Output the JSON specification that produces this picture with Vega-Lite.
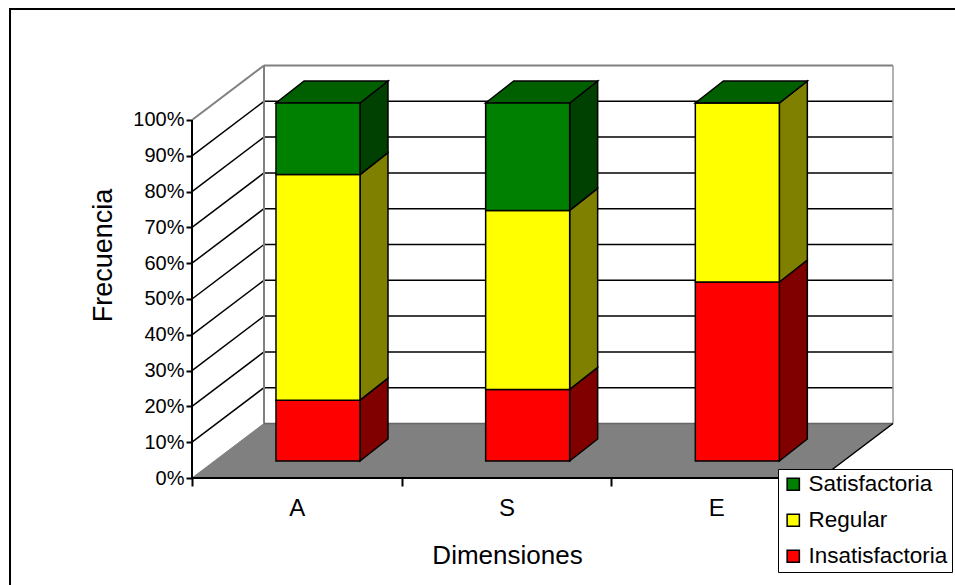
{
"$schema":"https://vega.github.io/schema/vega-lite/v6.json",
"autosize":"none",
"width":701,"height":413,
"padding":{"left":192,"top":65,"right":62,"bottom":107},
"background":"white",
"config":{"font":"Liberation Sans","view":{"stroke":null}},
"data":{"values":[
{"dim":"A","serie":"Insatisfactoria","orden":1,"valor":17},
{"dim":"A","serie":"Regular","orden":2,"valor":63},
{"dim":"A","serie":"Satisfactoria","orden":3,"valor":20},
{"dim":"S","serie":"Insatisfactoria","orden":1,"valor":20},
{"dim":"S","serie":"Regular","orden":2,"valor":50},
{"dim":"S","serie":"Satisfactoria","orden":3,"valor":30},
{"dim":"E","serie":"Insatisfactoria","orden":1,"valor":50},
{"dim":"E","serie":"Regular","orden":2,"valor":50},
{"dim":"E","serie":"Satisfactoria","orden":3,"valor":0}
]},
"transform":[
{"stack":"valor","groupby":["dim"],"sort":[{"field":"orden","order":"ascending"}],"as":["v0","v1"]},
{"calculate":"indexof(['A','S','E'],datum.dim)","as":"pos"},
{"calculate":"datum.pos+0.4006","as":"xa"},
{"calculate":"datum.pos+0.8013","as":"xb"},
{"calculate":"datum.v0+4.75","as":"ya"},
{"calculate":"datum.v1+4.75","as":"yb"}
],
"layer":[
{"data":{"values":[{}]},
 "mark":{"type":"rect","fill":null,"stroke":"black","strokeWidth":2},
 "encoding":{
  "x":{"datum":-0.868,"type":"quantitative","scale":{"domain":[0,3.3434],"nice":false,"zero":false},
    "axis":{"values":[0,1,2,3],"labels":false,"domain":false,"grid":false,"tickColor":"black","tickWidth":2,"tickSize":8,"title":"Dimensiones","titleFontSize":26,"titleFontWeight":"normal","titleColor":"black","titleX":315,"titleY":64}},
  "x2":{"datum":3.7},
  "y":{"datum":131,"type":"quantitative","scale":{"domain":[0,115.36],"nice":false,"zero":false},
    "axis":{"values":[0,10,20,30,40,50,60,70,80,90,100],"labelExpr":"datum.value+'%'","domain":false,"grid":false,"tickColor":"black","tickWidth":2,"tickSize":6,"labelFontSize":20,"labelColor":"black","labelPadding":2,"title":"Frecuencia","titleFontSize":27,"titleFontWeight":"normal","titleColor":"black","titleX":-75,"titleY":190}},
  "y2":{"datum":-40}
 }},
{"data":{"values":[{}]},
 "mark":{"type":"text","opacity":0},
 "encoding":{
  "x":{"datum":0.5,"type":"quantitative",
    "axis":{"orient":"bottom","values":[0.5,1.5,2.5],"labelExpr":"datum.value==0.5?'A':datum.value==1.5?'S':'E'","ticks":false,"domain":false,"grid":false,"labelFontSize":24,"labelColor":"black","labelPadding":18,"title":null}},
  "y":{"datum":0,"type":"quantitative"},
  "text":{"value":""}
 }},
{"data":{"values":[{"prof":0,"desde":0,"hasta":3},{"prof":15.22,"desde":0.3434,"hasta":3.3434}]},
 "mark":{"type":"area","orient":"horizontal","fill":"#808080","stroke":"#808080","strokeWidth":1},
 "encoding":{
  "y":{"field":"prof","type":"quantitative"},
  "x":{"field":"desde","type":"quantitative","axis":null},
  "x2":{"field":"hasta"}
 }},
{"data":{"values":[{"v":10},{"v":20},{"v":30},{"v":40},{"v":50},{"v":60},{"v":70},{"v":80},{"v":90}]},
 "transform":[{"calculate":"datum.v+15.22","as":"vb"}],
 "layer":[
  {"mark":{"type":"rule","color":"black","strokeWidth":1.5},
   "encoding":{"x":{"datum":0,"type":"quantitative","axis":null},"x2":{"datum":0.3434},"y":{"field":"v","type":"quantitative"},"y2":{"field":"vb"}}},
  {"mark":{"type":"rule","color":"black","strokeWidth":1.5},
   "encoding":{"x":{"datum":0.3434,"type":"quantitative","axis":null},"x2":{"datum":3.3434},"y":{"field":"vb","type":"quantitative"}}}
 ]},
{"data":{"values":[{}]},
 "layer":[
  {"mark":{"type":"rule","color":"#808080","strokeWidth":2},
   "encoding":{"x":{"datum":0,"type":"quantitative","axis":null},"x2":{"datum":0.3434},"y":{"datum":100,"type":"quantitative"},"y2":{"datum":115.22}}},
  {"mark":{"type":"rule","color":"#808080","strokeWidth":2},
   "encoding":{"x":{"datum":0.3434,"type":"quantitative","axis":null},"x2":{"datum":3.3434},"y":{"datum":115.22,"type":"quantitative"}}},
  {"mark":{"type":"rule","color":"#808080","strokeWidth":2},
   "encoding":{"x":{"datum":0.3434,"type":"quantitative","axis":null},"y":{"datum":15.22,"type":"quantitative"},"y2":{"datum":115.22}}},
  {"mark":{"type":"rule","color":"#999999","strokeWidth":1.5},
   "encoding":{"x":{"datum":3.3434,"type":"quantitative","axis":null},"y":{"datum":15.22,"type":"quantitative"},"y2":{"datum":115.22}}},
  {"mark":{"type":"rule","color":"#666666","strokeWidth":1.5},
   "encoding":{"x":{"datum":0.3434,"type":"quantitative","axis":null},"x2":{"datum":3.3434},"y":{"datum":15.22,"type":"quantitative"}}},
  {"mark":{"type":"rule","color":"black","strokeWidth":2},
   "encoding":{"x":{"datum":0,"type":"quantitative","axis":null},"y":{"datum":0,"type":"quantitative"},"y2":{"datum":100}}},
  {"mark":{"type":"rule","color":"black","strokeWidth":2},
   "encoding":{"x":{"datum":0,"type":"quantitative","axis":null},"x2":{"datum":3},"y":{"datum":0,"type":"quantitative"}}},
  {"mark":{"type":"rule","color":"black","strokeWidth":1.5},
   "encoding":{"x":{"datum":3,"type":"quantitative","axis":null},"x2":{"datum":3.3434},"y":{"datum":0,"type":"quantitative"},"y2":{"datum":15.22}}}
 ]},
{"transform":[
  {"calculate":"[0,1]","as":"t"},{"flatten":["t"]},
  {"calculate":"datum.xb+datum.t*0.1335","as":"sx"},
  {"calculate":"datum.ya+datum.t*6.15","as":"sa"},
  {"calculate":"datum.yb+datum.t*6.15","as":"sb"},
  {"calculate":"datum.dim+datum.serie","as":"cara"}
 ],
 "mark":{"type":"area","orient":"vertical","stroke":"black","strokeWidth":1.5},
 "encoding":{
  "x":{"field":"sx","type":"quantitative","axis":null},
  "y":{"field":"sa","type":"quantitative"},
  "y2":{"field":"sb"},
  "detail":{"field":"cara"},
  "color":{"field":"serie","type":"nominal","legend":null,"scale":{"domain":["Satisfactoria","Regular","Insatisfactoria"],"range":["#004000","#808000","#800000"]}}
 }},
{"transform":[
  {"filter":"datum.serie=='Satisfactoria'"},
  {"calculate":"[0,1]","as":"t"},{"flatten":["t"]},
  {"calculate":"datum.xa+datum.t*0.1335","as":"pxa"},
  {"calculate":"datum.xb+datum.t*0.1335","as":"pxb"},
  {"calculate":"datum.yb+datum.t*6.15","as":"py"}
 ],
 "mark":{"type":"area","orient":"horizontal","fill":"#006000","stroke":"black","strokeWidth":1.5},
 "encoding":{
  "y":{"field":"py","type":"quantitative"},
  "x":{"field":"pxa","type":"quantitative","axis":null},
  "x2":{"field":"pxb"},
  "detail":{"field":"dim"}
 }},
{"mark":{"type":"rect","stroke":"black","strokeWidth":1.5},
 "encoding":{
  "x":{"field":"xa","type":"quantitative","axis":null},
  "x2":{"field":"xb"},
  "y":{"field":"ya","type":"quantitative"},
  "y2":{"field":"yb"},
  "color":{"field":"serie","type":"nominal",
   "scale":{"domain":["Satisfactoria","Regular","Insatisfactoria"],"range":["#008000","#ffff00","#ff0000"]},
   "legend":{"title":null,"orient":"none","legendX":586,"legendY":404,"fillColor":"white","strokeColor":"black","padding":4,"symbolType":"square","symbolSize":150,"symbolStrokeColor":"black","symbolStrokeWidth":1.5,"symbolOpacity":1,"labelFontSize":22.5,"labelColor":"black","labelOffset":4,"rowPadding":13,"labelLimit":300}}
 }}
],
"resolve":{"scale":{"color":"independent"},"axis":{"x":"independent"}}
}
